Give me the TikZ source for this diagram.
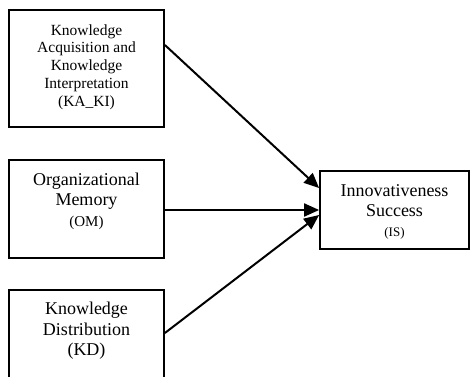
\documentclass[tikz,border=0pt]{standalone}
\usepackage{fontspec}
\setmainfont{Liberation Serif}
\usetikzlibrary{arrows.meta}
\begin{document}
\begin{tikzpicture}[x=1pt,y=-1pt,
  boxed/.style={draw=black,line width=1.8pt,rectangle,inner sep=0pt},
  lbl/.style={align=center,inner sep=0pt},
  conn/.style={line width=2pt,-{Triangle[length=15pt,width=13pt]}}]
\useasboundingbox (0,0) rectangle (471,377);
\begin{scope}
\clip (0,0) rectangle (471,377);
\node[boxed,minimum width=155pt,minimum height=117pt] (kaki) at (86.5,68.5) {};
\node[boxed,minimum width=155pt,minimum height=98pt] (om) at (86.5,209) {};
\node[boxed,minimum width=155pt,minimum height=110pt] (kd) at (86.5,345) {};
\node[boxed,minimum width=149pt,minimum height=78pt] (is) at (394.5,210) {};
\end{scope}
\node[lbl,font=\fontsize{15.5}{17.8}\selectfont] (t1) at (86.5,67) {Knowledge\\Acquisition and\\Knowledge\\Interpretation\\(KA\_KI)};
\node[lbl,font=\fontsize{18}{20.5}\selectfont] (t2) at (86.5,201) {Organizational\\Memory\\{\fontsize{15}{18}\selectfont (OM)}};
\node[lbl,font=\fontsize{18}{20.5}\selectfont] (t3) at (86.5,331) {Knowledge\\Distribution\\(KD)};
\node[lbl,font=\fontsize{18}{20}\selectfont] (t4) at (394.5,212) {Innovativeness\\Success\\{\fontsize{13}{18}\selectfont (IS)}};
\coordinate (a1) at (kaki.east |- 0,45);
\coordinate (a3) at (kd.east |- 0,333);
\coordinate (e1) at (is.west |- 0,188);
\coordinate (e3) at (is.west |- 0,215);
\draw[conn] (a1) -- (e1);
\draw[conn] (om.east |- is.west) -- (is.west);
\draw[conn] (a3) -- (e3);
\end{tikzpicture}
\end{document}
